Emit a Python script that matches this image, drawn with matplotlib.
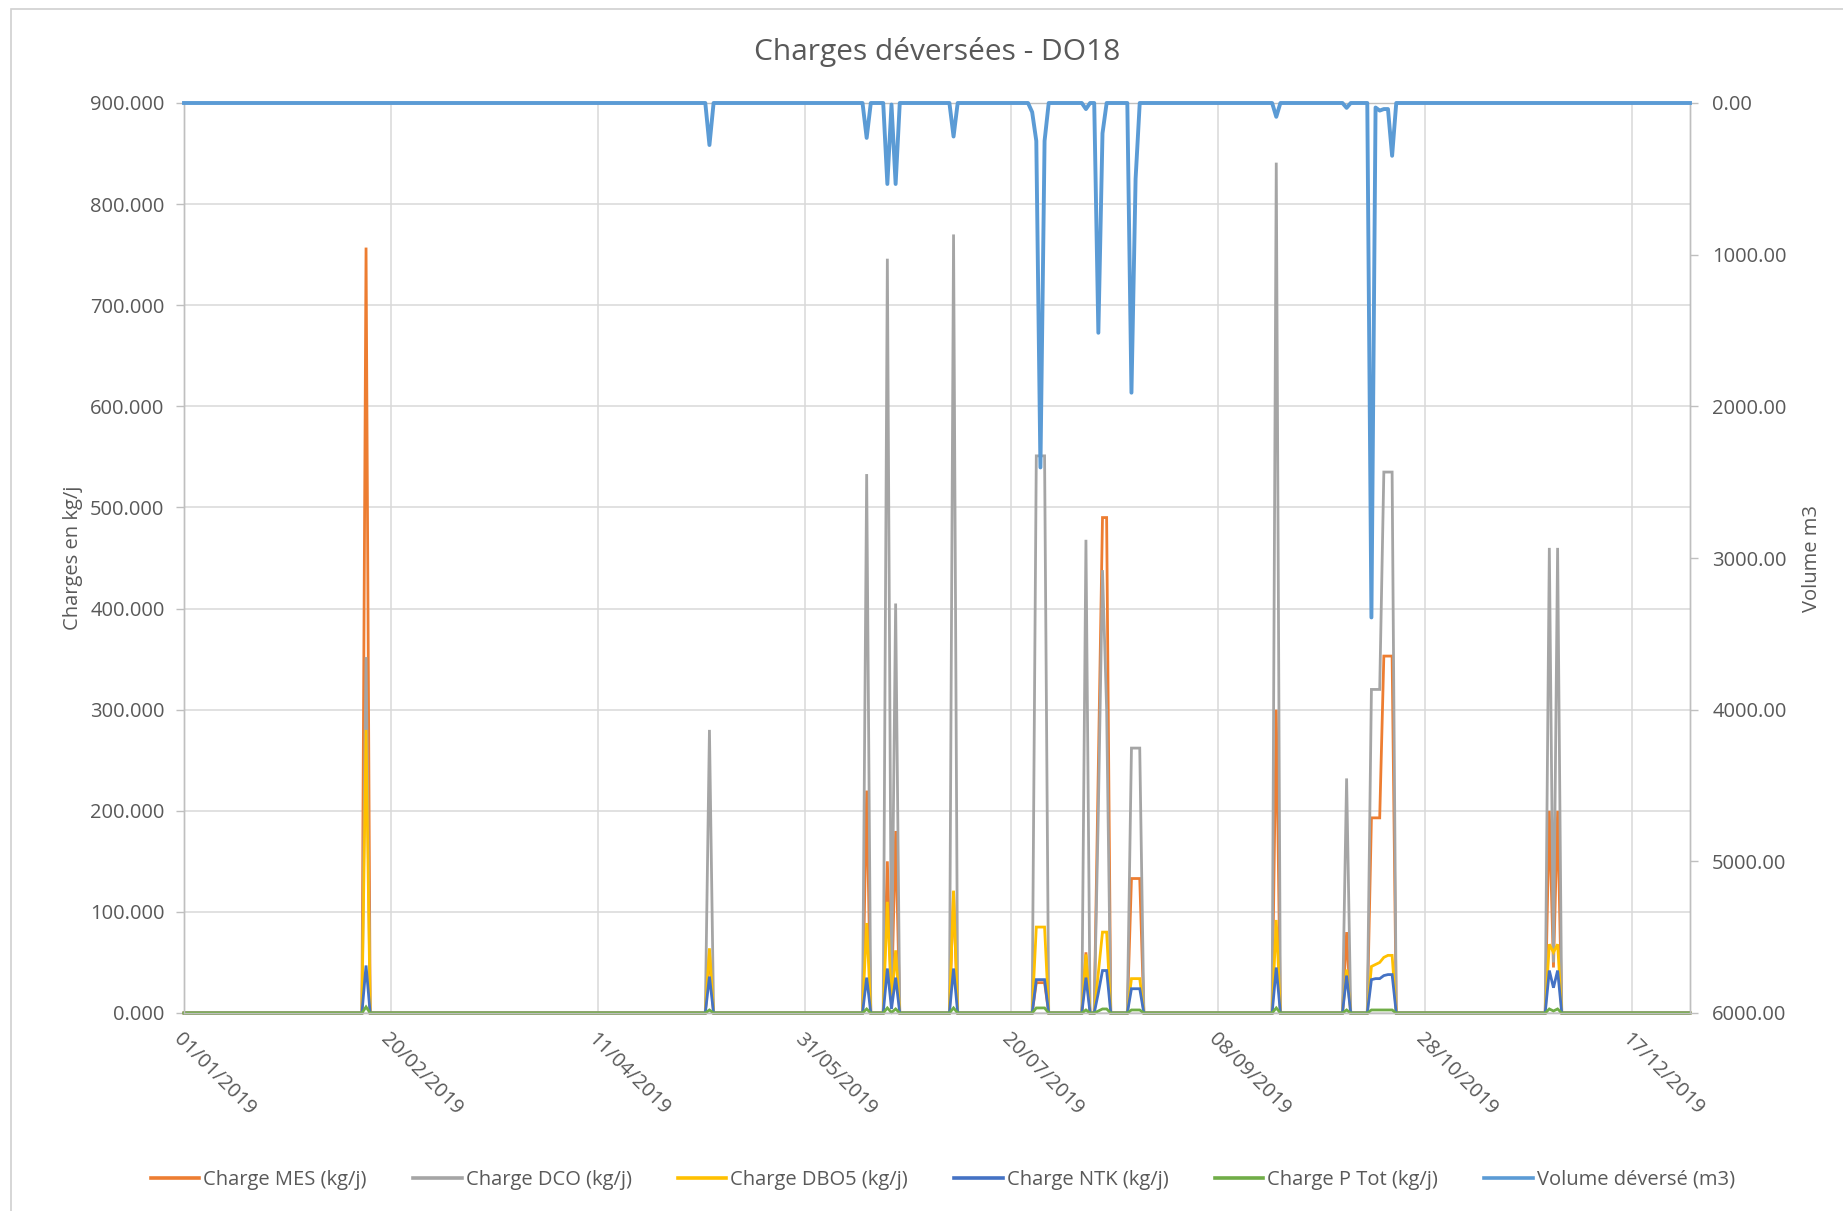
import matplotlib
matplotlib.use("Agg")
import matplotlib.pyplot as plt
import matplotlib.dates as mdates
from matplotlib.ticker import FuncFormatter
from matplotlib.patches import Rectangle
import pandas as pd

# ---------------- data ----------------
event_dates = ["2019-02-14", "2019-05-08", "2019-06-15", "2019-06-20", "2019-06-21",
               "2019-06-22", "2019-07-06", "2019-07-25", "2019-07-26", "2019-07-27",
               "2019-07-28", "2019-08-07", "2019-08-10", "2019-08-11", "2019-08-12",
               "2019-08-18", "2019-08-19", "2019-08-20", "2019-09-22", "2019-10-09",
               "2019-10-15", "2019-10-16", "2019-10-17", "2019-10-18", "2019-10-19",
               "2019-10-20", "2019-11-27", "2019-11-28", "2019-11-29"]
charge_mes = [757, 60, 220, 150, 10, 180, 120, 0, 30, 30, 30, 60, 245, 490, 490,
              133, 133, 133, 300, 80, 193, 193, 193, 353, 353, 353, 200, 45, 200]
charge_dco = [352, 280, 533, 746, 20, 405, 770, 0, 551, 551, 551, 468, 200, 438, 300,
              262, 262, 262, 841, 232, 320, 320, 320, 535, 535, 535, 460, 50, 460]
charge_dbo5 = [280, 64, 89, 110, 8, 62, 121, 0, 85, 85, 85, 58, 40, 80, 80,
               34, 34, 34, 92, 43, 46, 48, 50, 55, 57, 57, 68, 60, 68]
charge_ntk = [47, 36, 35, 44, 4, 35, 44, 0, 33, 33, 33, 35, 20, 42, 42,
              24, 24, 24, 45, 37, 33, 34, 34, 37, 38, 38, 42, 25, 42]
charge_ptot = [6, 3, 4, 5, 0.5, 4, 5, 0, 5, 5, 5, 3, 2, 4, 4,
               3, 3, 3, 5, 3, 3, 3, 3, 3, 3, 3, 4, 2, 4]
volume = [0, 277, 230, 534, 10, 534, 221, 60, 250, 2403, 250, 40, 1515, 200, 0,
          1910, 500, 0, 91, 32, 3392, 30, 50, 40, 40, 348, 0, 0, 0]

series_names = ["Charge MES (kg/j)", "Charge DCO (kg/j)", "Charge DBO5 (kg/j)",
                "Charge NTK (kg/j)", "Charge P Tot (kg/j)", "Volume déversé (m3)"]
series_colors = ["#ED7D31", "#A5A5A5", "#FFC000", "#4472C4", "#70AD47", "#5B9BD5"]
left_ticks = [0, 100, 200, 300, 400, 500, 600, 700, 800, 900]
right_ticks = [0, 1000, 2000, 3000, 4000, 5000, 6000]
date_ticks = ["2019-01-01", "2019-02-20", "2019-04-11", "2019-05-31", "2019-07-20",
              "2019-09-08", "2019-10-28", "2019-12-17"]

# ---------------- build daily series ----------------
days = pd.date_range("2019-01-01", "2019-12-31", freq="D")
ev = pd.to_datetime(event_dates)

def daily(vals):
    s = pd.Series(0.0, index=days)
    s.loc[ev] = vals
    return s

df = pd.DataFrame({
    series_names[0]: daily(charge_mes),
    series_names[1]: daily(charge_dco),
    series_names[2]: daily(charge_dbo5),
    series_names[3]: daily(charge_ntk),
    series_names[4]: daily(charge_ptot),
    series_names[5]: daily(volume),
})

# ---------------- figure ----------------
plt.rcParams['font.family'] = ['Open Sans', 'DejaVu Sans']
txt = "#595959"
grid = "#D9D9D9"

fig = plt.figure(figsize=(18.43, 12.11), dpi=100)
fig.patch.set_facecolor("white")
fig.patches.append(Rectangle((11 / 1843, -0.02), 1.1, 1.02 - 9 / 1211,
                             transform=fig.transFigure, fill=False,
                             edgecolor="#D0D0D0", lw=1.2, zorder=0))

ax = fig.add_axes([184 / 1843, 1 - 1013 / 1211, (1690 - 184) / 1843, (1013 - 103) / 1211])
ax2 = ax.twinx()

handles = []
for i in range(5):
    name = series_names[i]
    h, = ax.plot(df.index, df[name], color=series_colors[i], lw=2.0,
                 zorder=3 + i, clip_on=False, solid_joinstyle="miter")
    handles.append(h)
hv, = ax2.plot(df.index, df[series_names[5]], color=series_colors[5], lw=2.8,
               clip_on=False, zorder=5)
handles.append(hv)

ax.set_xlim(pd.Timestamp("2019-01-01"), pd.Timestamp("2019-12-31"))
ax.set_ylim(0, 900)
ax2.set_ylim(6000, 0)

ax.set_yticks(left_ticks)
ax.yaxis.set_major_formatter(FuncFormatter(lambda v, p: f"{v:.3f}"))
ax2.set_yticks(right_ticks)
ax2.yaxis.set_major_formatter(FuncFormatter(lambda v, p: f"{v:.2f}"))

ax.set_xticks(pd.to_datetime(date_ticks))
ax.xaxis.set_major_formatter(mdates.DateFormatter("%d/%m/%Y"))
for lbl in ax.get_xticklabels():
    lbl.set_rotation(-45)
    lbl.set_ha("left")
    lbl.set_va("top")
    lbl.set_rotation_mode("anchor")

ax.grid(True, color=grid, lw=1.1, zorder=0)
ax.set_axisbelow(True)

for a in (ax, ax2):
    for sp in a.spines.values():
        sp.set_color("#BFBFBF")
        sp.set_linewidth(1.0)
    a.tick_params(colors=txt, labelsize=14.5, length=6, width=1, color="#BFBFBF")
ax.tick_params(axis="y", pad=8)
ax2.tick_params(axis="y", pad=10)
ax.tick_params(axis="x", pad=12, length=0)
ax2.spines["top"].set_visible(False)

ax.set_ylabel("Charges en kg/j", color=txt, fontsize=14.5, labelpad=5)
ax2.set_ylabel("Volume m3", color=txt, fontsize=14.5, labelpad=11)

fig.text(937 / 1843, 1 - 52 / 1211, "Charges déversées - DO18", ha="center",
         va="center", fontsize=21.5, color=txt)

leg = fig.legend(handles, series_names, loc="center", ncol=6,
                 bbox_to_anchor=(943 / 1843, 1 - 1180 / 1211), frameon=False,
                 fontsize=14.5, handlelength=2.4, handletextpad=0.2,
                 columnspacing=2.3, labelcolor=txt)
for lh in leg.get_lines():
    lh.set_linewidth(2.6)

fig.savefig("out.png", dpi=100)
